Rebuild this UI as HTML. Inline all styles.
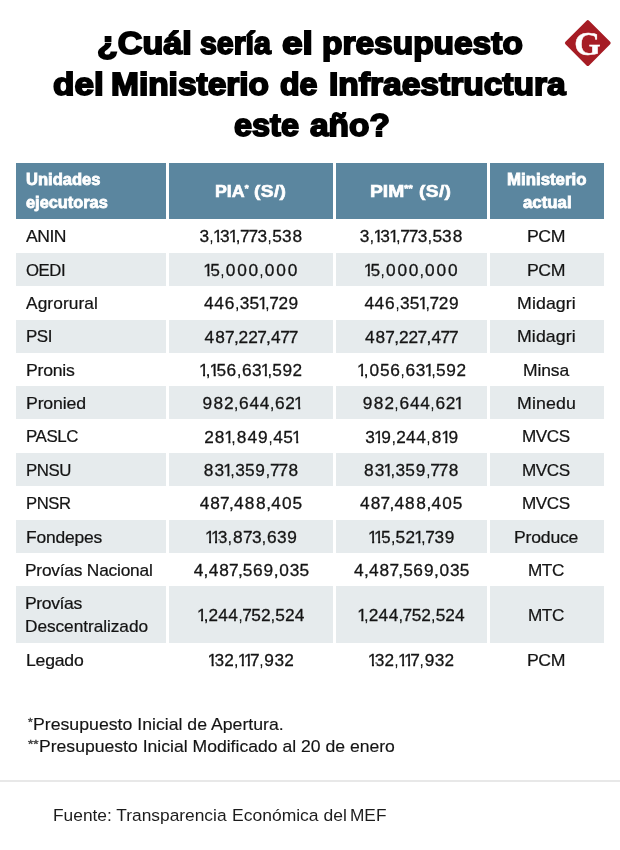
<!DOCTYPE html>
<html lang="es"><head><meta charset="utf-8"><title>¿Cuál sería el presupuesto del Ministerio de Infraestructura este año?</title><style>
html,body{margin:0;padding:0;background:#fff;}
body{width:620px;height:850px;position:relative;overflow:hidden;font-family:"Liberation Sans",sans-serif;color:#141414;}
.t{position:absolute;white-space:nowrap;line-height:1;margin:0;padding:0;transform-origin:0 0;}
.b{position:absolute;}
h1,p,section,footer{margin:0;padding:0;font:inherit;}
hr{position:absolute;left:0;top:780px;width:620px;height:2px;margin:0;border:0;background:#e8e8e8;}
.n{font-size:17.3px;fill:#141414;stroke:#141414;stroke-width:0.3px;overflow:visible;}
sup{font-size:.55em;vertical-align:baseline;position:relative;top:-.62em;line-height:0;}
</style></head><body>
<div class="b" style="left:16px;top:162.5px;width:150px;height:56.5px;background:#5b869f"></div>
<div class="b" style="left:169px;top:162.5px;width:164px;height:56.5px;background:#5b869f"></div>
<div class="b" style="left:336px;top:162.5px;width:151px;height:56.5px;background:#5b869f"></div>
<div class="b" style="left:490px;top:162.5px;width:114px;height:56.5px;background:#5b869f"></div>
<div class="b" style="left:16px;top:252.8px;width:150px;height:33.3px;background:#e6ebed"></div>
<div class="b" style="left:169px;top:252.8px;width:164px;height:33.3px;background:#e6ebed"></div>
<div class="b" style="left:336px;top:252.8px;width:151px;height:33.3px;background:#e6ebed"></div>
<div class="b" style="left:490px;top:252.8px;width:114px;height:33.3px;background:#e6ebed"></div>
<div class="b" style="left:16px;top:319.5px;width:150px;height:33.3px;background:#e6ebed"></div>
<div class="b" style="left:169px;top:319.5px;width:164px;height:33.3px;background:#e6ebed"></div>
<div class="b" style="left:336px;top:319.5px;width:151px;height:33.3px;background:#e6ebed"></div>
<div class="b" style="left:490px;top:319.5px;width:114px;height:33.3px;background:#e6ebed"></div>
<div class="b" style="left:16px;top:386.2px;width:150px;height:33.3px;background:#e6ebed"></div>
<div class="b" style="left:169px;top:386.2px;width:164px;height:33.3px;background:#e6ebed"></div>
<div class="b" style="left:336px;top:386.2px;width:151px;height:33.3px;background:#e6ebed"></div>
<div class="b" style="left:490px;top:386.2px;width:114px;height:33.3px;background:#e6ebed"></div>
<div class="b" style="left:16px;top:452.9px;width:150px;height:33.3px;background:#e6ebed"></div>
<div class="b" style="left:169px;top:452.9px;width:164px;height:33.3px;background:#e6ebed"></div>
<div class="b" style="left:336px;top:452.9px;width:151px;height:33.3px;background:#e6ebed"></div>
<div class="b" style="left:490px;top:452.9px;width:114px;height:33.3px;background:#e6ebed"></div>
<div class="b" style="left:16px;top:519.6px;width:150px;height:33.3px;background:#e6ebed"></div>
<div class="b" style="left:169px;top:519.6px;width:164px;height:33.3px;background:#e6ebed"></div>
<div class="b" style="left:336px;top:519.6px;width:151px;height:33.3px;background:#e6ebed"></div>
<div class="b" style="left:490px;top:519.6px;width:114px;height:33.3px;background:#e6ebed"></div>
<div class="b" style="left:16px;top:586.3px;width:150px;height:56.3px;background:#e6ebed"></div>
<div class="b" style="left:169px;top:586.3px;width:164px;height:56.3px;background:#e6ebed"></div>
<div class="b" style="left:336px;top:586.3px;width:151px;height:56.3px;background:#e6ebed"></div>
<div class="b" style="left:490px;top:586.3px;width:114px;height:56.3px;background:#e6ebed"></div>
<svg class="b" style="left:560px;top:15px" width="56" height="56" viewBox="0 0 56 56"><rect x="11.1" y="11.4" width="33.4" height="33.4" rx="1.8" transform="rotate(45 27.8 28.1)" fill="#a61c24"/><text x="27.6" y="39.9" text-anchor="middle" font-family="Liberation Serif, serif" font-weight="700" font-size="34" fill="#fff" stroke="#fff" stroke-width="0.4">G</text></svg>
<h1>
<span class="t" style="left:96.76px;top:28.16px;font-size:31px;font-weight:700;color:#000;-webkit-text-stroke:1.8px #000;transform:scaleX(1.0987);">¿Cuál</span>
<span class="t" style="left:200.49px;top:28.16px;font-size:31px;font-weight:700;color:#000;-webkit-text-stroke:1.8px #000;transform:scaleX(0.9780);">sería</span>
<span class="t" style="left:282.37px;top:28.16px;font-size:31px;font-weight:700;color:#000;-webkit-text-stroke:1.8px #000;transform:scaleX(1.1955);">el</span>
<span class="t" style="left:321.68px;top:28.16px;font-size:31px;font-weight:700;color:#000;-webkit-text-stroke:1.8px #000;transform:scaleX(1.0795);">presupuesto</span>
<span class="t" style="left:52.52px;top:68.96px;font-size:31px;font-weight:700;color:#000;-webkit-text-stroke:1.8px #000;transform:scaleX(1.1303);">del</span>
<span class="t" style="left:111.31px;top:68.96px;font-size:31px;font-weight:700;color:#000;-webkit-text-stroke:1.8px #000;transform:scaleX(1.0796);">Ministerio</span>
<span class="t" style="left:280.25px;top:68.96px;font-size:31px;font-weight:700;color:#000;-webkit-text-stroke:1.8px #000;transform:scaleX(1.0358);">de</span>
<span class="t" style="left:328.98px;top:68.96px;font-size:31px;font-weight:700;color:#000;-webkit-text-stroke:1.8px #000;transform:scaleX(1.0820);">Infraestructura</span>
<span class="t" style="left:234.31px;top:109.96px;font-size:31px;font-weight:700;color:#000;-webkit-text-stroke:1.8px #000;transform:scaleX(1.0463);">este</span>
<span class="t" style="left:309.65px;top:109.96px;font-size:31px;font-weight:700;color:#000;-webkit-text-stroke:1.8px #000;transform:scaleX(1.0776);">año?</span>
</h1>
<section><div class="hd">
<span class="t" style="left:26.18px;top:171.07px;font-size:16.5px;font-weight:700;color:#fff;-webkit-text-stroke:0.8px #fff;transform:scaleX(1.0034);">Unidades</span>
<span class="t" style="left:26.10px;top:194.43px;font-size:16.5px;font-weight:700;color:#fff;-webkit-text-stroke:0.8px #fff;transform:scaleX(0.9908);">ejecutoras</span>
<span class="t" style="left:214.77px;top:182.57px;font-size:16.2px;font-weight:700;color:#fff;-webkit-text-stroke:0.6px #fff;transform:scaleX(1.0995);">PIA<sup>*</sup></span>
<span class="t" style="left:254.47px;top:182.57px;font-size:16.2px;font-weight:700;color:#fff;-webkit-text-stroke:0.6px #fff;letter-spacing:0.300px;transform:scaleX(1.1851);">(S/)</span>
<span class="t" style="left:370.11px;top:182.57px;font-size:16.2px;font-weight:700;color:#fff;-webkit-text-stroke:0.6px #fff;transform:scaleX(1.1906);">PIM<sup>**</sup></span>
<span class="t" style="left:419.46px;top:182.57px;font-size:16.2px;font-weight:700;color:#fff;-webkit-text-stroke:0.6px #fff;letter-spacing:0.300px;transform:scaleX(1.1856);">(S/)</span>
<span class="t" style="left:506.72px;top:171.41px;font-size:16.5px;font-weight:700;color:#fff;-webkit-text-stroke:0.8px #fff;transform:scaleX(1.0198);">Ministerio</span>
<span class="t" style="left:522.57px;top:194.33px;font-size:16.5px;font-weight:700;color:#fff;-webkit-text-stroke:0.8px #fff;transform:scaleX(1.0180);">actual</span>
</div>
<div class="r">
<span class="t" style="left:26.46px;top:228.01px;font-size:17px;-webkit-text-stroke:0.22px #141414;letter-spacing:-0.450px;transform:scaleX(1.0323);">ANIN</span>
<svg class="b n" style="left:196px;top:225px" width="111" height="23"><clipPath id="k0"><rect x="1.10" y="0.10" width="107.20" height="15.01"/><rect x="3.80" y="15.06" width="8.80" height="5.79"/><rect x="14.67" y="15.06" width="1.70" height="5.79"/><rect x="21.15" y="15.06" width="2.03" height="5.79"/><rect x="26.03" y="15.06" width="7.12" height="5.79"/><rect x="36.91" y="15.06" width="2.03" height="5.79"/><rect x="41.24" y="15.06" width="1.70" height="5.79"/><rect x="44.52" y="15.06" width="8.46" height="5.79"/><rect x="53.03" y="15.06" width="8.46" height="5.79"/><rect x="61.93" y="15.06" width="8.80" height="5.79"/><rect x="72.80" y="15.06" width="1.70" height="5.79"/><rect x="76.53" y="15.06" width="8.80" height="5.79"/><rect x="86.26" y="15.06" width="8.80" height="5.79"/><rect x="96.88" y="15.06" width="8.72" height="5.79"/></clipPath><g clip-path="url(#k0)"><text x="3.44 13.12 17.05 23.99 32.81 39.68 43.93 52.45 61.58 71.25 76.13 85.90 96.43" y="17.40">3,131,773,538</text></g></svg>
<svg class="b n" style="left:356px;top:225px" width="111" height="23"><clipPath id="k1"><rect x="1.50" y="0.10" width="107.00" height="15.01"/><rect x="4.20" y="15.06" width="8.80" height="5.79"/><rect x="15.05" y="15.06" width="1.70" height="5.79"/><rect x="21.53" y="15.06" width="2.03" height="5.79"/><rect x="26.40" y="15.06" width="7.11" height="5.79"/><rect x="37.25" y="15.06" width="2.03" height="5.79"/><rect x="41.57" y="15.06" width="1.70" height="5.79"/><rect x="44.83" y="15.06" width="8.46" height="5.79"/><rect x="53.33" y="15.06" width="8.46" height="5.79"/><rect x="62.21" y="15.06" width="8.80" height="5.79"/><rect x="73.06" y="15.06" width="1.70" height="5.79"/><rect x="76.77" y="15.06" width="8.80" height="5.79"/><rect x="86.48" y="15.06" width="8.80" height="5.79"/><rect x="97.08" y="15.06" width="8.72" height="5.79"/></clipPath><g clip-path="url(#k1)"><text x="3.84 13.50 17.43 24.35 33.15 40.01 44.24 52.74 61.85 71.51 76.38 86.12 96.63" y="17.40">3,131,773,538</text></g></svg>
<span class="t" style="left:527.38px;top:228.01px;font-size:17px;-webkit-text-stroke:0.22px #141414;letter-spacing:-0.450px;transform:scaleX(1.0409);">PCM</span>
</div>
<div class="r">
<span class="t" style="left:25.95px;top:262.21px;font-size:17px;-webkit-text-stroke:0.22px #141414;letter-spacing:-0.450px;transform:scaleX(0.9830);">OEDI</span>
<svg class="b n" style="left:201px;top:258px" width="101" height="23"><clipPath id="k2"><rect x="1.00" y="0.50" width="97.60" height="15.01"/><rect x="6.44" y="15.46" width="2.03" height="5.79"/><rect x="11.31" y="15.46" width="7.19" height="5.79"/><rect x="20.56" y="15.46" width="1.70" height="5.79"/><rect x="25.09" y="15.46" width="8.87" height="5.79"/><rect x="36.52" y="15.46" width="8.87" height="5.79"/><rect x="47.95" y="15.46" width="8.87" height="5.79"/><rect x="59.65" y="15.46" width="1.70" height="5.79"/><rect x="64.17" y="15.46" width="8.87" height="5.79"/><rect x="75.60" y="15.46" width="8.87" height="5.79"/><rect x="87.03" y="15.46" width="8.87" height="5.79"/></clipPath><g clip-path="url(#k2)"><text x="2.34 9.31 19.01 24.71 36.14 47.57 58.09 63.80 75.23 86.65" y="17.80">15,000,000</text></g></svg>
<svg class="b n" style="left:361px;top:258px" width="101" height="23"><clipPath id="k3"><rect x="1.30" y="0.50" width="97.60" height="15.01"/><rect x="6.74" y="15.46" width="2.03" height="5.79"/><rect x="11.61" y="15.46" width="7.19" height="5.79"/><rect x="20.86" y="15.46" width="1.70" height="5.79"/><rect x="25.39" y="15.46" width="8.87" height="5.79"/><rect x="36.82" y="15.46" width="8.87" height="5.79"/><rect x="48.25" y="15.46" width="8.87" height="5.79"/><rect x="59.95" y="15.46" width="1.70" height="5.79"/><rect x="64.47" y="15.46" width="8.87" height="5.79"/><rect x="75.90" y="15.46" width="8.87" height="5.79"/><rect x="87.33" y="15.46" width="8.87" height="5.79"/></clipPath><g clip-path="url(#k3)"><text x="2.64 9.61 19.31 25.01 36.44 47.87 58.39 64.10 75.53 86.95" y="17.80">15,000,000</text></g></svg>
<span class="t" style="left:527.37px;top:262.21px;font-size:17px;-webkit-text-stroke:0.22px #141414;letter-spacing:-0.450px;transform:scaleX(1.0409);">PCM</span>
</div>
<div class="r">
<span class="t" style="left:26.29px;top:294.71px;font-size:17px;-webkit-text-stroke:0.22px #141414;letter-spacing:0.097px;transform:scaleX(1.0171);">Agrorural</span>
<svg class="b n" style="left:200px;top:292px" width="102" height="23"><clipPath id="k4"><rect x="1.50" y="-0.20" width="98.90" height="15.01"/><rect x="4.20" y="14.76" width="9.32" height="5.79"/><rect x="14.37" y="14.76" width="9.32" height="5.79"/><rect x="25.27" y="14.76" width="8.58" height="5.79"/><rect x="36.38" y="14.76" width="1.70" height="5.79"/><rect x="40.02" y="14.76" width="8.80" height="5.79"/><rect x="49.79" y="14.76" width="8.80" height="5.79"/><rect x="62.32" y="14.76" width="2.03" height="5.79"/><rect x="66.63" y="14.76" width="1.70" height="5.79"/><rect x="69.89" y="14.76" width="8.46" height="5.79"/><rect x="78.97" y="14.76" width="8.48" height="5.79"/><rect x="89.11" y="14.76" width="8.59" height="5.79"/></clipPath><g clip-path="url(#k4)"><text x="4.10 14.27 24.69 34.83 39.67 49.40 58.22 65.08 69.30 78.40 88.60" y="17.10">446,351,729</text></g></svg>
<svg class="b n" style="left:360px;top:292px" width="102" height="23"><clipPath id="k5"><rect x="1.80" y="-0.20" width="98.90" height="15.01"/><rect x="4.50" y="14.76" width="9.32" height="5.79"/><rect x="14.67" y="14.76" width="9.32" height="5.79"/><rect x="25.57" y="14.76" width="8.58" height="5.79"/><rect x="36.68" y="14.76" width="1.70" height="5.79"/><rect x="40.32" y="14.76" width="8.80" height="5.79"/><rect x="50.09" y="14.76" width="8.80" height="5.79"/><rect x="62.62" y="14.76" width="2.03" height="5.79"/><rect x="66.93" y="14.76" width="1.70" height="5.79"/><rect x="70.19" y="14.76" width="8.46" height="5.79"/><rect x="79.27" y="14.76" width="8.48" height="5.79"/><rect x="89.41" y="14.76" width="8.59" height="5.79"/></clipPath><g clip-path="url(#k5)"><text x="4.40 14.57 24.99 35.13 39.97 49.70 58.52 65.38 69.60 78.70 88.90" y="17.10">446,351,729</text></g></svg>
<span class="t" style="left:517.18px;top:294.71px;font-size:17px;-webkit-text-stroke:0.22px #141414;letter-spacing:0.092px;transform:scaleX(1.0437);">Midagri</span>
</div>
<div class="r">
<span class="t" style="left:25.57px;top:328.11px;font-size:17px;-webkit-text-stroke:0.22px #141414;letter-spacing:-0.450px;transform:scaleX(0.9973);">PSI</span>
<svg class="b n" style="left:201px;top:325px" width="102" height="23"><text x="3.60 14.18 23.93 32.88 37.62 47.19 56.17 65.12 70.08 79.28 87.65" y="17.50">487,227,477</text></svg>
<svg class="b n" style="left:361px;top:325px" width="102" height="23"><text x="3.90 14.48 24.23 33.18 37.92 47.49 56.47 65.42 70.38 79.58 87.95" y="17.50">487,227,477</text></svg>
<span class="t" style="left:516.88px;top:328.11px;font-size:17px;-webkit-text-stroke:0.22px #141414;letter-spacing:0.092px;transform:scaleX(1.0419);">Midagri</span>
</div>
<div class="r">
<span class="t" style="left:25.66px;top:362.21px;font-size:17px;-webkit-text-stroke:0.22px #141414;letter-spacing:-0.257px;transform:scaleX(1.0388);">Pronis</span>
<svg class="b n" style="left:196px;top:358px" width="110" height="23"><clipPath id="k8"><rect x="1.60" y="0.50" width="106.70" height="15.01"/><rect x="7.04" y="15.46" width="2.03" height="5.79"/><rect x="11.30" y="15.46" width="1.70" height="5.79"/><rect x="17.71" y="15.46" width="2.03" height="5.79"/><rect x="22.59" y="15.46" width="7.09" height="5.79"/><rect x="31.18" y="15.46" width="8.58" height="5.79"/><rect x="42.22" y="15.46" width="1.70" height="5.79"/><rect x="46.49" y="15.46" width="8.58" height="5.79"/><rect x="56.37" y="15.46" width="8.80" height="5.79"/><rect x="68.83" y="15.46" width="2.03" height="5.79"/><rect x="73.09" y="15.46" width="1.70" height="5.79"/><rect x="76.72" y="15.46" width="8.80" height="5.79"/><rect x="86.96" y="15.46" width="8.59" height="5.79"/><rect x="97.12" y="15.46" width="8.48" height="5.79"/></clipPath><g clip-path="url(#k8)"><text x="2.94 9.74 13.61 20.48 30.60 40.66 45.91 56.01 64.73 71.53 76.33 86.45 96.55" y="17.80">1,156,631,592</text></g></svg>
<svg class="b n" style="left:354px;top:358px" width="116" height="23"><clipPath id="k9"><rect x="1.60" y="0.50" width="112.60" height="15.01"/><rect x="7.04" y="15.46" width="2.03" height="5.79"/><rect x="11.33" y="15.46" width="1.70" height="5.79"/><rect x="15.79" y="15.46" width="8.87" height="5.79"/><rect x="26.34" y="15.46" width="8.80" height="5.79"/><rect x="36.71" y="15.46" width="8.58" height="5.79"/><rect x="47.79" y="15.46" width="1.70" height="5.79"/><rect x="52.10" y="15.46" width="8.58" height="5.79"/><rect x="62.04" y="15.46" width="8.80" height="5.79"/><rect x="74.54" y="15.46" width="2.03" height="5.79"/><rect x="78.83" y="15.46" width="1.70" height="5.79"/><rect x="82.51" y="15.46" width="8.80" height="5.79"/><rect x="92.81" y="15.46" width="8.59" height="5.79"/><rect x="103.02" y="15.46" width="8.48" height="5.79"/></clipPath><g clip-path="url(#k9)"><text x="2.94 9.77 15.42 25.95 36.13 46.24 51.53 61.68 70.44 77.28 82.12 92.29 102.45" y="17.80">1,056,631,592</text></g></svg>
<span class="t" style="left:522.77px;top:362.21px;font-size:17px;-webkit-text-stroke:0.22px #141414;letter-spacing:-0.115px;transform:scaleX(1.0274);">Minsa</span>
</div>
<div class="r">
<span class="t" style="left:25.67px;top:394.81px;font-size:17px;-webkit-text-stroke:0.22px #141414;letter-spacing:-0.168px;transform:scaleX(1.0424);">Pronied</span>
<svg class="b n" style="left:199px;top:392px" width="106" height="23"><clipPath id="k10"><rect x="1.20" y="-0.10" width="102.80" height="15.01"/><rect x="3.90" y="14.86" width="8.59" height="5.79"/><rect x="14.88" y="14.86" width="8.72" height="5.79"/><rect x="25.56" y="14.86" width="8.48" height="5.79"/><rect x="36.23" y="14.86" width="1.70" height="5.79"/><rect x="40.62" y="14.86" width="8.58" height="5.79"/><rect x="50.62" y="14.86" width="9.32" height="5.79"/><rect x="60.84" y="14.86" width="9.32" height="5.79"/><rect x="72.22" y="14.86" width="1.70" height="5.79"/><rect x="76.61" y="14.86" width="8.58" height="5.79"/><rect x="86.85" y="14.86" width="8.48" height="5.79"/><rect x="99.22" y="14.86" width="2.03" height="5.79"/></clipPath><g clip-path="url(#k10)"><text x="3.39 14.43 24.99 34.68 40.04 50.52 60.75 70.67 76.03 86.28 95.12" y="17.20">982,644,621</text></g></svg>
<svg class="b n" style="left:359px;top:392px" width="106" height="23"><clipPath id="k11"><rect x="1.60" y="-0.10" width="102.80" height="15.01"/><rect x="4.30" y="14.86" width="8.59" height="5.79"/><rect x="15.28" y="14.86" width="8.72" height="5.79"/><rect x="25.96" y="14.86" width="8.48" height="5.79"/><rect x="36.63" y="14.86" width="1.70" height="5.79"/><rect x="41.02" y="14.86" width="8.58" height="5.79"/><rect x="51.02" y="14.86" width="9.32" height="5.79"/><rect x="61.24" y="14.86" width="9.32" height="5.79"/><rect x="72.62" y="14.86" width="1.70" height="5.79"/><rect x="77.01" y="14.86" width="8.58" height="5.79"/><rect x="87.25" y="14.86" width="8.48" height="5.79"/><rect x="99.62" y="14.86" width="2.03" height="5.79"/></clipPath><g clip-path="url(#k11)"><text x="3.79 14.83 25.39 35.08 40.44 50.92 61.15 71.07 76.43 86.68 95.52" y="17.20">982,644,621</text></g></svg>
<span class="t" style="left:517.12px;top:394.81px;font-size:17px;-webkit-text-stroke:0.22px #141414;letter-spacing:0.107px;transform:scaleX(1.0442);">Minedu</span>
</div>
<div class="r">
<span class="t" style="left:25.67px;top:428.11px;font-size:17px;-webkit-text-stroke:0.22px #141414;letter-spacing:-0.450px;transform:scaleX(0.9938);">PASLC</span>
<svg class="b n" style="left:201px;top:425px" width="103" height="23"><clipPath id="k12"><rect x="1.00" y="0.20" width="99.00" height="15.01"/><rect x="3.70" y="15.16" width="8.48" height="5.79"/><rect x="14.12" y="15.16" width="8.72" height="5.79"/><rect x="27.38" y="15.16" width="2.03" height="5.79"/><rect x="31.70" y="15.16" width="1.70" height="5.79"/><rect x="36.25" y="15.16" width="8.72" height="5.79"/><rect x="46.66" y="15.16" width="9.32" height="5.79"/><rect x="57.53" y="15.16" width="8.59" height="5.79"/><rect x="68.74" y="15.16" width="1.70" height="5.79"/><rect x="72.37" y="15.16" width="9.32" height="5.79"/><rect x="82.67" y="15.16" width="8.80" height="5.79"/><rect x="95.22" y="15.16" width="2.03" height="5.79"/></clipPath><g clip-path="url(#k12)"><text x="3.13 13.66 23.27 30.15 35.80 46.57 57.02 67.19 72.28 82.27 91.12" y="17.50">281,849,451</text></g></svg>
<svg class="b n" style="left:361px;top:425px" width="101" height="23"><clipPath id="k13"><rect x="1.80" y="0.20" width="97.60" height="15.01"/><rect x="4.50" y="15.16" width="8.80" height="5.79"/><rect x="17.01" y="15.16" width="2.03" height="5.79"/><rect x="21.88" y="15.16" width="7.49" height="5.79"/><rect x="31.94" y="15.16" width="1.70" height="5.79"/><rect x="35.76" y="15.16" width="8.48" height="5.79"/><rect x="45.19" y="15.16" width="9.32" height="5.79"/><rect x="55.33" y="15.16" width="9.32" height="5.79"/><rect x="66.64" y="15.16" width="1.70" height="5.79"/><rect x="71.13" y="15.16" width="8.72" height="5.79"/><rect x="84.33" y="15.16" width="2.03" height="5.79"/><rect x="89.21" y="15.16" width="7.49" height="5.79"/></clipPath><g clip-path="url(#k13)"><text x="4.14 12.91 20.28 30.38 35.19 45.10 55.23 65.08 70.68 80.23 87.60" y="17.50">319,244,819</text></g></svg>
<span class="t" style="left:521.70px;top:428.11px;font-size:17px;-webkit-text-stroke:0.22px #141414;letter-spacing:-0.450px;transform:scaleX(1.0067);">MVCS</span>
</div>
<div class="r">
<span class="t" style="left:25.59px;top:461.51px;font-size:17px;-webkit-text-stroke:0.22px #141414;letter-spacing:-0.450px;transform:scaleX(0.9879);">PNSU</span>
<svg class="b n" style="left:200px;top:458px" width="102" height="23"><clipPath id="k14"><rect x="1.50" y="0.60" width="98.90" height="15.01"/><rect x="4.20" y="15.56" width="8.72" height="5.79"/><rect x="14.74" y="15.56" width="8.80" height="5.79"/><rect x="27.38" y="15.56" width="2.03" height="5.79"/><rect x="31.76" y="15.56" width="1.70" height="5.79"/><rect x="35.50" y="15.56" width="8.80" height="5.79"/><rect x="45.40" y="15.56" width="8.80" height="5.79"/><rect x="55.87" y="15.56" width="8.59" height="5.79"/><rect x="67.15" y="15.56" width="1.70" height="5.79"/><rect x="70.50" y="15.56" width="8.46" height="5.79"/><rect x="79.10" y="15.56" width="8.46" height="5.79"/><rect x="88.98" y="15.56" width="8.72" height="5.79"/></clipPath><g clip-path="url(#k14)"><text x="3.75 14.38 23.28 30.21 35.14 45.01 55.36 65.60 69.91 78.51 88.53" y="17.90">831,359,778</text></g></svg>
<svg class="b n" style="left:360px;top:458px" width="102" height="23"><clipPath id="k15"><rect x="1.80" y="0.60" width="98.90" height="15.01"/><rect x="4.50" y="15.56" width="8.72" height="5.79"/><rect x="15.04" y="15.56" width="8.80" height="5.79"/><rect x="27.68" y="15.56" width="2.03" height="5.79"/><rect x="32.06" y="15.56" width="1.70" height="5.79"/><rect x="35.80" y="15.56" width="8.80" height="5.79"/><rect x="45.70" y="15.56" width="8.80" height="5.79"/><rect x="56.17" y="15.56" width="8.59" height="5.79"/><rect x="67.45" y="15.56" width="1.70" height="5.79"/><rect x="70.80" y="15.56" width="8.46" height="5.79"/><rect x="79.40" y="15.56" width="8.46" height="5.79"/><rect x="89.28" y="15.56" width="8.72" height="5.79"/></clipPath><g clip-path="url(#k15)"><text x="4.05 14.68 23.58 30.51 35.44 45.31 55.66 65.90 70.21 78.81 88.83" y="17.90">831,359,778</text></g></svg>
<span class="t" style="left:521.70px;top:461.51px;font-size:17px;-webkit-text-stroke:0.22px #141414;letter-spacing:-0.450px;transform:scaleX(1.0066);">MVCS</span>
</div>
<div class="r">
<span class="t" style="left:25.71px;top:494.81px;font-size:17px;-webkit-text-stroke:0.22px #141414;letter-spacing:-0.450px;transform:scaleX(0.9792);">PNSR</span>
<svg class="b n" style="left:196px;top:492px" width="111" height="23"><text x="3.70 14.33 24.12 33.10 38.09 48.72 59.90 70.26 75.26 85.93 96.41" y="17.20">487,488,405</text></svg>
<svg class="b n" style="left:356px;top:492px" width="111" height="23"><text x="4.00 14.63 24.42 33.40 38.39 49.02 60.20 70.56 75.56 86.23 96.71" y="17.20">487,488,405</text></svg>
<span class="t" style="left:521.70px;top:494.81px;font-size:17px;-webkit-text-stroke:0.22px #141414;letter-spacing:-0.450px;transform:scaleX(1.0067);">MVCS</span>
</div>
<div class="r">
<span class="t" style="left:25.69px;top:528.81px;font-size:17px;-webkit-text-stroke:0.22px #141414;letter-spacing:-0.189px;transform:scaleX(1.0256);">Fondepes</span>
<svg class="b n" style="left:202px;top:525px" width="99" height="23"><clipPath id="k18"><rect x="1.60" y="0.30" width="95.40" height="15.01"/><rect x="7.04" y="15.26" width="2.03" height="5.79"/><rect x="13.02" y="15.26" width="2.03" height="5.79"/><rect x="17.89" y="15.26" width="7.07" height="5.79"/><rect x="26.99" y="15.26" width="1.70" height="5.79"/><rect x="31.48" y="15.26" width="8.72" height="5.79"/><rect x="41.47" y="15.26" width="8.46" height="5.79"/><rect x="50.32" y="15.26" width="8.80" height="5.79"/><rect x="61.14" y="15.26" width="1.70" height="5.79"/><rect x="65.46" y="15.26" width="8.58" height="5.79"/><rect x="75.40" y="15.26" width="8.80" height="5.79"/><rect x="85.71" y="15.26" width="8.59" height="5.79"/></clipPath><g clip-path="url(#k18)"><text x="2.94 8.92 15.80 25.43 31.03 40.89 49.96 59.58 64.88 75.04 85.20" y="17.60">113,873,639</text></g></svg>
<svg class="b n" style="left:365px;top:525px" width="93" height="23"><clipPath id="k19"><rect x="1.70" y="0.30" width="89.80" height="15.01"/><rect x="7.14" y="15.26" width="2.03" height="5.79"/><rect x="13.16" y="15.26" width="2.03" height="5.79"/><rect x="18.03" y="15.26" width="7.19" height="5.79"/><rect x="27.28" y="15.26" width="1.70" height="5.79"/><rect x="31.01" y="15.26" width="8.80" height="5.79"/><rect x="40.96" y="15.26" width="8.48" height="5.79"/><rect x="53.31" y="15.26" width="2.03" height="5.79"/><rect x="57.64" y="15.26" width="1.70" height="5.79"/><rect x="60.92" y="15.26" width="8.46" height="5.79"/><rect x="69.83" y="15.26" width="8.80" height="5.79"/><rect x="80.21" y="15.26" width="8.59" height="5.79"/></clipPath><g clip-path="url(#k19)"><text x="3.04 9.06 16.03 25.73 30.62 40.39 49.21 56.09 60.34 69.47 79.70" y="17.60">115,521,739</text></g></svg>
<span class="t" style="left:513.89px;top:528.81px;font-size:17px;-webkit-text-stroke:0.22px #141414;letter-spacing:-0.171px;transform:scaleX(1.0337);">Produce</span>
</div>
<div class="r">
<span class="t" style="left:25.32px;top:561.51px;font-size:17px;-webkit-text-stroke:0.22px #141414;letter-spacing:-0.208px;transform:scaleX(1.0189);">Provías Nacional</span>
<svg class="b n" style="left:190px;top:558px" width="124" height="23"><text x="3.80 13.62 18.63 29.27 39.08 48.07 52.87 63.01 73.60 83.67 89.28 99.75 109.41" y="17.90">4,487,569,035</text></svg>
<svg class="b n" style="left:350px;top:558px" width="124" height="23"><text x="4.10 13.92 18.93 29.57 39.38 48.37 53.17 63.31 73.90 83.97 89.58 100.05 109.71" y="17.90">4,487,569,035</text></svg>
<span class="t" style="left:527.71px;top:561.51px;font-size:17px;-webkit-text-stroke:0.22px #141414;letter-spacing:-0.450px;transform:scaleX(1.0106);">MTC</span>
</div>
<div class="r">
<span class="t" style="left:25.47px;top:594.61px;font-size:17px;-webkit-text-stroke:0.22px #141414;letter-spacing:-0.390px;transform:scaleX(1.0345);">Provías</span>
<span class="t" style="left:25.48px;top:617.91px;font-size:17px;-webkit-text-stroke:0.22px #141414;letter-spacing:-0.058px;transform:scaleX(1.0161);">Descentralizado</span>
<svg class="b n" style="left:194px;top:604px" width="115" height="23"><clipPath id="k22"><rect x="1.60" y="-0.30" width="111.30" height="15.01"/><rect x="7.04" y="14.66" width="2.03" height="5.79"/><rect x="11.29" y="14.66" width="1.70" height="5.79"/><rect x="15.06" y="14.66" width="8.48" height="5.79"/><rect x="24.42" y="14.66" width="9.32" height="5.79"/><rect x="34.47" y="14.66" width="9.32" height="5.79"/><rect x="45.73" y="14.66" width="1.70" height="5.79"/><rect x="48.91" y="14.66" width="8.46" height="5.79"/><rect x="57.74" y="14.66" width="8.80" height="5.79"/><rect x="67.55" y="14.66" width="8.48" height="5.79"/><rect x="78.10" y="14.66" width="1.70" height="5.79"/><rect x="81.72" y="14.66" width="8.80" height="5.79"/><rect x="91.53" y="14.66" width="8.48" height="5.79"/><rect x="100.88" y="14.66" width="9.32" height="5.79"/></clipPath><g clip-path="url(#k22)"><text x="2.94 9.73 14.49 24.32 34.37 44.17 48.32 57.35 66.98 76.55 81.33 90.96 100.79" y="17.00">1,244,752,524</text></g></svg>
<svg class="b n" style="left:354px;top:604px" width="115" height="23"><clipPath id="k23"><rect x="1.90" y="-0.30" width="111.30" height="15.01"/><rect x="7.34" y="14.66" width="2.03" height="5.79"/><rect x="11.59" y="14.66" width="1.70" height="5.79"/><rect x="15.36" y="14.66" width="8.48" height="5.79"/><rect x="24.72" y="14.66" width="9.32" height="5.79"/><rect x="34.77" y="14.66" width="9.32" height="5.79"/><rect x="46.03" y="14.66" width="1.70" height="5.79"/><rect x="49.21" y="14.66" width="8.46" height="5.79"/><rect x="58.04" y="14.66" width="8.80" height="5.79"/><rect x="67.85" y="14.66" width="8.48" height="5.79"/><rect x="78.40" y="14.66" width="1.70" height="5.79"/><rect x="82.02" y="14.66" width="8.80" height="5.79"/><rect x="91.83" y="14.66" width="8.48" height="5.79"/><rect x="101.18" y="14.66" width="9.32" height="5.79"/></clipPath><g clip-path="url(#k23)"><text x="3.24 10.03 14.79 24.62 34.67 44.47 48.62 57.65 67.28 76.85 81.63 91.26 101.09" y="17.00">1,244,752,524</text></g></svg>
<span class="t" style="left:527.71px;top:606.61px;font-size:17px;-webkit-text-stroke:0.22px #141414;letter-spacing:-0.450px;transform:scaleX(1.0106);">MTC</span>
</div><div class="r">
<span class="t" style="left:25.53px;top:652.21px;font-size:17px;-webkit-text-stroke:0.22px #141414;letter-spacing:-0.207px;transform:scaleX(1.0368);">Legado</span>
<svg class="b n" style="left:205px;top:648px" width="93" height="23"><clipPath id="k24"><rect x="1.20" y="0.50" width="89.80" height="15.01"/><rect x="6.64" y="15.46" width="2.03" height="5.79"/><rect x="11.51" y="15.46" width="7.09" height="5.79"/><rect x="19.72" y="15.46" width="8.48" height="5.79"/><rect x="30.35" y="15.46" width="1.70" height="5.79"/><rect x="36.81" y="15.46" width="2.03" height="5.79"/><rect x="42.81" y="15.46" width="2.03" height="5.79"/><rect x="47.68" y="15.46" width="6.38" height="5.79"/><rect x="55.60" y="15.46" width="1.70" height="5.79"/><rect x="59.87" y="15.46" width="8.59" height="5.79"/><rect x="69.90" y="15.46" width="8.80" height="5.79"/><rect x="79.82" y="15.46" width="8.48" height="5.79"/></clipPath><g clip-path="url(#k24)"><text x="2.54 9.45 19.15 28.80 32.71 38.71 45.01 54.04 59.36 69.55 79.25" y="17.80">132,117,932</text></g></svg>
<svg class="b n" style="left:365px;top:648px" width="93" height="23"><clipPath id="k25"><rect x="1.50" y="0.50" width="89.80" height="15.01"/><rect x="6.94" y="15.46" width="2.03" height="5.79"/><rect x="11.81" y="15.46" width="7.09" height="5.79"/><rect x="20.02" y="15.46" width="8.48" height="5.79"/><rect x="30.65" y="15.46" width="1.70" height="5.79"/><rect x="37.11" y="15.46" width="2.03" height="5.79"/><rect x="43.11" y="15.46" width="2.03" height="5.79"/><rect x="47.98" y="15.46" width="6.38" height="5.79"/><rect x="55.90" y="15.46" width="1.70" height="5.79"/><rect x="60.17" y="15.46" width="8.59" height="5.79"/><rect x="70.20" y="15.46" width="8.80" height="5.79"/><rect x="80.12" y="15.46" width="8.48" height="5.79"/></clipPath><g clip-path="url(#k25)"><text x="2.84 9.75 19.45 29.10 33.01 39.01 45.31 54.34 59.66 69.85 79.55" y="17.80">132,117,932</text></g></svg>
<span class="t" style="left:527.38px;top:652.21px;font-size:17px;-webkit-text-stroke:0.22px #141414;letter-spacing:-0.450px;transform:scaleX(1.0409);">PCM</span>
</div></section>
<footer><p>
<span class="t" style="left:27.90px;top:717.29px;font-size:11px;color:#444;-webkit-text-stroke:0.4px #444;transform:scaleX(1.0978);">*</span>
<span class="t" style="left:32.55px;top:715.92px;font-size:16.4px;-webkit-text-stroke:0.15px #141414;transform:scaleX(1.0791);">Presupuesto Inicial de Apertura.</span>
</p><p>
<span class="t" style="left:27.90px;top:738.79px;font-size:11px;color:#444;-webkit-text-stroke:0.4px #444;transform:scaleX(1.2263);">**</span>
<span class="t" style="left:38.85px;top:738.12px;font-size:16.4px;-webkit-text-stroke:0.15px #141414;transform:scaleX(1.0731);">Presupuesto Inicial Modificado al 20 de enero</span>
</p><hr><p>
<span class="t" style="left:53.26px;top:808.18px;font-size:16.8px;color:#1c1c1c;transform:scaleX(1.0335);">Fuente: Transparencia</span>
<span class="t" style="left:231.78px;top:808.18px;font-size:16.8px;color:#1c1c1c;transform:scaleX(1.0431);">Económica del</span>
<span class="t" style="left:349.94px;top:808.18px;font-size:16.8px;color:#1c1c1c;transform:scaleX(1.0283);">MEF</span>
</p></footer>
</body></html>
